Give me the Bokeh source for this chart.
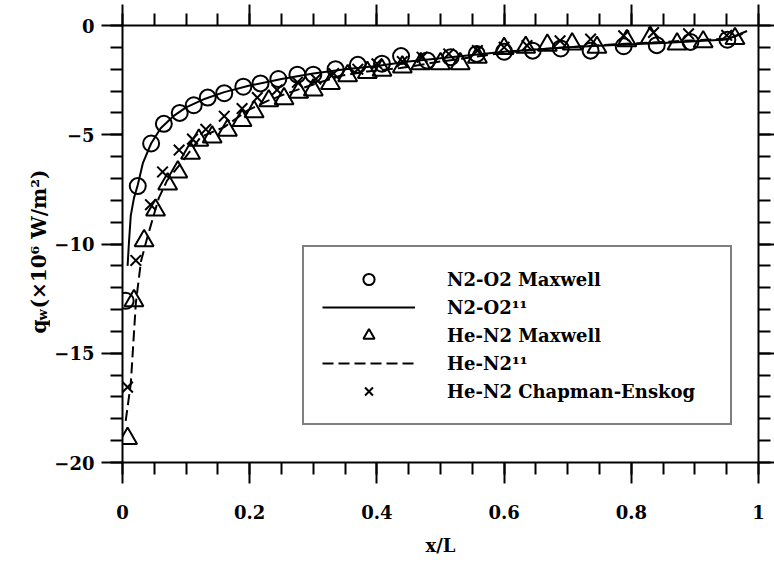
from bokeh.plotting import figure
from bokeh.layouts import row
from bokeh.models import (Range1d, LinearAxis, FixedTicker, CustomJSTickFormatter,
                          Legend, LegendItem)
from bokeh.core.properties import value
from bokeh.embed import file_html
from bokeh.resources import INLINE

FONT = "DejaVu Serif"

# ---------------- data ----------------
n2o2_max_x = [0.005, 0.024, 0.045, 0.065, 0.09, 0.112, 0.134, 0.16, 0.19, 0.217, 0.245,
              0.275, 0.30, 0.335, 0.37, 0.408, 0.438, 0.479, 0.516, 0.557, 0.60, 0.645,
              0.689, 0.736, 0.788, 0.84, 0.893, 0.951]
n2o2_max_y = [-12.6, -7.35, -5.4, -4.5, -4.0, -3.65, -3.3, -3.1, -2.8, -2.65, -2.45,
              -2.25, -2.25, -2.0, -1.8, -1.75, -1.4, -1.6, -1.45, -1.3, -1.2, -1.15,
              -1.05, -1.15, -0.95, -0.9, -0.75, -0.65]

n2o2_ref_x = [0.008, 0.010, 0.013, 0.018, 0.024, 0.032, 0.045, 0.06, 0.08, 0.1, 0.13, 0.16,
              0.2, 0.25, 0.3, 0.35, 0.4, 0.45, 0.5, 0.55, 0.6, 0.65, 0.7, 0.75, 0.8, 0.85,
              0.9, 0.95, 0.982]
n2o2_ref_y = [-11.0, -10.0, -8.7, -7.9, -7.3, -6.3, -5.4, -4.7, -4.15, -3.75, -3.35, -3.05,
              -2.75, -2.45, -2.2, -2.0, -1.85, -1.65, -1.5, -1.35, -1.2, -1.1, -1.0, -0.93,
              -0.86, -0.8, -0.72, -0.64, -0.25]

hen2_max_x = [0.008, 0.018, 0.034, 0.052, 0.071, 0.087, 0.107, 0.12, 0.141, 0.165, 0.188,
              0.207, 0.23, 0.254, 0.277, 0.30, 0.327, 0.354, 0.385, 0.408, 0.44, 0.469,
              0.50, 0.531, 0.558, 0.60, 0.634, 0.668, 0.707, 0.746, 0.793, 0.83, 0.872,
              0.913, 0.963]
hen2_max_y = [-18.9, -12.6, -9.85, -8.45, -7.25, -6.7, -5.85, -5.25, -5.1, -4.8, -4.35,
              -3.95, -3.45, -3.35, -3.05, -2.95, -2.65, -2.3, -2.15, -2.05, -1.9, -1.75,
              -1.75, -1.75, -1.45, -1.05, -1.0, -0.9, -0.85, -1.0, -0.7, -0.55, -0.85,
              -0.75, -0.6]

hen2_ref_x = [0.005, 0.013, 0.021, 0.029, 0.039, 0.047, 0.057, 0.07, 0.092, 0.123, 0.16,
              0.196, 0.228, 0.259, 0.30, 0.343, 0.385, 0.437, 0.5, 0.55, 0.6, 0.65, 0.7,
              0.75, 0.8, 0.85, 0.9, 0.95, 0.98]
hen2_ref_y = [-18.1, -16.4, -12.7, -10.8, -9.7, -8.9, -7.9, -7.1, -6.3, -5.1, -4.65,
              -3.9, -3.45, -3.1, -2.7, -2.3, -2.1, -1.95, -1.65, -1.45, -1.25, -1.1, -1.0,
              -0.9, -0.82, -0.75, -0.68, -0.6, -0.35]

hen2_ce_x = [0.008, 0.021, 0.044, 0.063, 0.089, 0.11, 0.131, 0.16, 0.188, 0.212, 0.243,
             0.275, 0.304, 0.332, 0.37, 0.40, 0.44, 0.471, 0.513, 0.558, 0.60, 0.636,
             0.688, 0.736, 0.788, 0.835, 0.89, 0.95]
hen2_ce_y = [-16.55, -10.75, -8.2, -6.7, -5.7, -5.2, -4.75, -4.15, -3.8, -3.3, -2.95,
             -2.6, -2.45, -2.2, -2.0, -1.75, -1.65, -1.45, -1.3, -1.15, -1.0, -0.92,
             -0.7, -0.62, -0.47, -0.32, -0.38, -0.45]

x_major = [0, 0.2, 0.4, 0.6, 0.8, 1.0]
x_minor = [i * 0.05 for i in range(21)]
y_major = [0, -5, -10, -15, -20]
y_minor = [-i for i in range(21)]

legend_labels = ["N2-O2 Maxwell", "N2-O2\u00b9\u00b9", "He-N2 Maxwell", "He-N2\u00b9\u00b9",
                 "He-N2 Chapman-Enskog"]

# y-axis title pieces: q, subscript w, rest
ytitle_parts = ["q", "w", "(\u00d710\u2076 W/m\u00b2)"]

# ---------------- layout constants ----------------
W, H = 774, 564
SIDE_W = 50
FRAME_TOP, FRAME_BOTTOM = 25, 462

# ---------------- side panel holding the y-axis title ----------------
# its frame is aligned with the main frame; y data = minus canvas pixel row
side = figure(width=SIDE_W, height=H, output_backend="svg", toolbar_location=None,
              x_range=Range1d(0, SIDE_W), y_range=Range1d(-FRAME_BOTTOM, -FRAME_TOP),
              x_axis_location=None, y_axis_location=None,
              min_border=0, min_border_left=0, min_border_right=0,
              min_border_top=FRAME_TOP, min_border_bottom=H - FRAME_BOTTOM)
side.xgrid.visible = False
side.ygrid.visible = False
side.outline_line_color = None

base_x = 38
start_row = 333
title_common = dict(angle=1.5707963, text_font=value(FONT), text_font_style="bold",
                    text_color="black", text_align="left", text_baseline="alphabetic")
side.text(x=[base_x], y=[-start_row], text=[ytitle_parts[0]], text_font_size="20px",
          **title_common)
side.text(x=[base_x + 4], y=[-start_row + 13], text=[ytitle_parts[1]], text_font_size="13px",
          **title_common)
side.text(x=[base_x], y=[-start_row + 25], text=[ytitle_parts[2]], text_font_size="20px",
          **title_common)

# ---------------- main figure ----------------
p = figure(width=W - SIDE_W, height=H, output_backend="svg", toolbar_location=None,
           x_range=Range1d(0, 1), y_range=Range1d(-20, 0),
           x_axis_location=None, y_axis_location=None,
           min_border_left=122 - SIDE_W, min_border_right=16, min_border_top=FRAME_TOP,
           min_border_bottom=H - FRAME_BOTTOM)
p.xgrid.visible = False
p.ygrid.visible = False
p.outline_line_color = None

xfmt = CustomJSTickFormatter(code="return String(Math.round(tick*10)/10);")
yfmt = CustomJSTickFormatter(code="return tick < 0 ? '\\u2212' + String(-tick) : String(tick);")
blank = CustomJSTickFormatter(code="return '';")


def style(ax, out_major=21):
    ax.axis_line_width = 2
    ax.axis_line_color = "black"
    ax.major_tick_line_width = 2
    ax.minor_tick_line_width = 2
    ax.major_tick_line_color = "black"
    ax.minor_tick_line_color = "black"
    ax.major_tick_in = 0
    ax.major_tick_out = out_major
    ax.minor_tick_in = 0
    ax.minor_tick_out = 12
    ax.major_label_text_font = FONT
    ax.major_label_text_font_style = "bold"
    ax.major_label_text_font_size = "18px"
    ax.major_label_text_color = "black"
    ax.axis_label_text_font = FONT
    ax.axis_label_text_font_style = "bold"
    ax.axis_label_text_font_size = "18px"
    ax.axis_label_text_color = "black"


bottom = LinearAxis(ticker=FixedTicker(ticks=x_major, minor_ticks=x_minor), formatter=xfmt,
                    axis_label="x/L")
style(bottom)
bottom.major_label_standoff = 21
bottom.axis_label_standoff = 13
p.add_layout(bottom, "below")

top = LinearAxis(ticker=FixedTicker(ticks=x_major, minor_ticks=x_minor), formatter=blank)
style(top)
top.major_label_text_font_size = "1px"
top.major_label_standoff = 0
p.add_layout(top, "above")

left = LinearAxis(ticker=FixedTicker(ticks=y_major, minor_ticks=y_minor), formatter=yfmt)
style(left)
left.major_label_standoff = 7
p.add_layout(left, "left")

right = LinearAxis(ticker=FixedTicker(ticks=y_major, minor_ticks=y_minor), formatter=blank)
style(right, out_major=16)
right.major_label_text_font_size = "1px"
right.major_label_standoff = 0
p.add_layout(right, "right")

# ---------------- glyphs ----------------
r_ref1 = p.line(n2o2_ref_x, n2o2_ref_y, line_color="black", line_width=2)
r_ref2 = p.line(hen2_ref_x, hen2_ref_y, line_color="black", line_width=2, line_dash="11 5")
r_circ = p.scatter(n2o2_max_x, n2o2_max_y, marker="circle", size=16, fill_color=None,
                   line_color="black", line_width=2)
r_tri = p.scatter(hen2_max_x, hen2_max_y, marker="triangle", size=19, fill_color=None,
                  line_color="black", line_width=2)
r_x = p.scatter(hen2_ce_x, hen2_ce_y, marker="x", size=15, line_color="black", line_width=2)

legend = Legend(items=[LegendItem(label=legend_labels[0], renderers=[r_circ]),
                       LegendItem(label=legend_labels[1], renderers=[r_ref1]),
                       LegendItem(label=legend_labels[2], renderers=[r_tri]),
                       LegendItem(label=legend_labels[3], renderers=[r_ref2]),
                       LegendItem(label=legend_labels[4], renderers=[r_x])],
                location=(180, 37))
legend.label_text_font = FONT
legend.label_text_font_style = "bold"
legend.label_text_font_size = "18px"
legend.label_text_color = "black"
legend.border_line_color = "black"
legend.border_line_width = 2
legend.background_fill_color = "white"
legend.background_fill_alpha = 1
legend.padding = 18
legend.margin = 0
legend.spacing = 0
legend.glyph_width = 93
legend.glyph_height = 28
legend.label_height = 28
legend.label_width = 265
legend.label_standoff = 32
p.add_layout(legend, "center")

layout = row(side, p, spacing=0)
open("out.html", "w").write(file_html(layout, INLINE))
